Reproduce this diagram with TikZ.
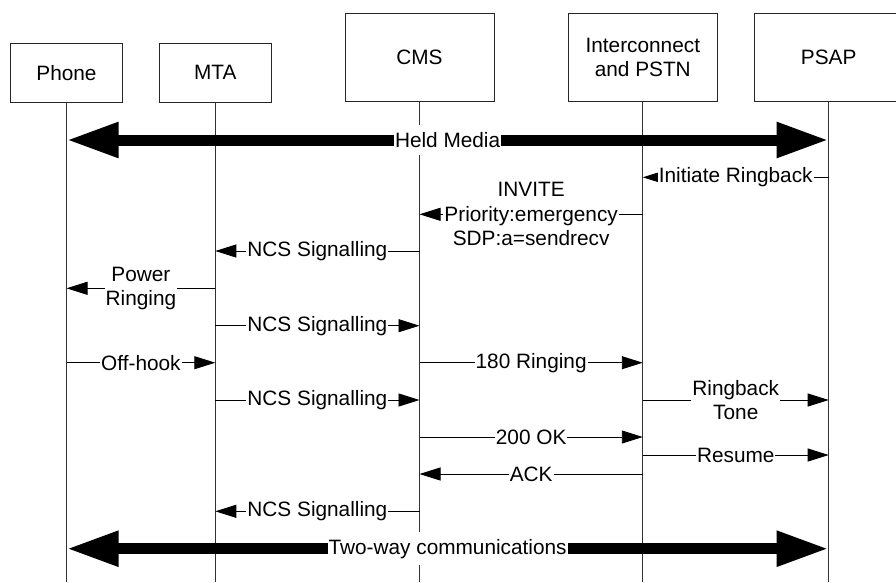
\documentclass[tikz,border=0pt]{standalone}
\usepackage{fontspec}
\setmainfont{Liberation Sans}
\usetikzlibrary{arrows.meta}
\begin{document}
\begin{tikzpicture}[x=1pt,y=-1pt,
  every node/.style={font=\fontsize{20.8pt}{24.5pt}\selectfont},
  actor/.style={draw=black!85, line width=0.9pt, fill=white, inner sep=0pt, align=center},
  life/.style={line width=0.9pt, draw=black!80},
  msg/.style={line width=0.9pt, -{Triangle[length=21pt,width=13pt]}},
  lbl/.style={fill=white, inner xsep=1pt, inner ysep=2pt, align=center},
  big/.style={line width=11pt, {Triangle[length=52pt,width=33pt]}-{Triangle[length=52pt,width=33pt]}},
  biglbl/.style={fill=white, inner xsep=1pt, inner ysep=7pt}]
\useasboundingbox (0,0) rectangle (896,582);
\clip (0,0) rectangle (896,582);
\fill[white] (0,0) rectangle (896,582);
% actors
\node[actor, minimum width=111.6pt, minimum height=59pt] (phone) at (66.5,72.8) {Phone};
\node[actor, minimum width=112pt, minimum height=59pt] (mta) at (215.3,72.8) {MTA};
\node[actor, minimum width=149pt, minimum height=88.4pt] (cms) at (419.5,57.5) {CMS};
\node[actor, minimum width=149pt, minimum height=88.4pt] (ic) at (642.8,57.5) {Interconnect\\and PSTN};
\node[actor, minimum width=149pt, minimum height=88.4pt] (psap) at (828.7,57.5) {PSAP};
% lifelines
\coordinate (phoneend) at (phone.south |- 0,582);
\coordinate (mtaend) at (mta.south |- 0,582);
\coordinate (cmsend) at (cms.south |- 0,582);
\coordinate (icend) at (ic.south |- 0,582);
\coordinate (psapend) at (psap.south |- 0,582);
\draw[life] (phone.south) -- (phoneend);
\draw[life] (mta.south) -- (mtaend);
\draw[life] (cms.south) -- (cmsend);
\draw[life] (ic.south) -- (icend);
\draw[life] (psap.south) -- (psapend);
% messages
\draw[big] (phone.south |- 0,140) -- node[biglbl]{Held Media} (psap.south |- 0,140);
\draw[msg] (psap.south |- 0,177.3) -- node[lbl]{Initiate Ringback} (ic.south |- 0,177.3);
\draw[msg] (ic.south |- 0,214.3) -- node[lbl]{INVITE\\Priority:emergency\\SDP:a=sendrecv} (cms.south |- 0,214.3);
\draw[msg] (cms.south |- 0,251) -- node[lbl]{NCS Signalling} (mta.south |- 0,251);
\draw[msg] (mta.south |- 0,288.3) -- node[lbl]{Power\\Ringing} (phone.south |- 0,288.3);
\draw[msg] (mta.south |- 0,325.7) -- node[lbl]{NCS Signalling} (cms.south |- 0,325.7);
\draw[msg] (phone.south |- 0,362.7) -- node[lbl]{Off-hook} (mta.south |- 0,362.7);
\draw[msg] (cms.south |- 0,362.7) -- node[lbl]{180 Ringing} (ic.south |- 0,362.7);
\draw[msg] (mta.south |- 0,400) -- node[lbl]{NCS Signalling} (cms.south |- 0,400);
\draw[msg] (ic.south |- 0,400) -- node[lbl]{Ringback\\Tone} (psap.south |- 0,400);
\draw[msg] (cms.south |- 0,437) -- node[lbl]{200 OK} (ic.south |- 0,437);
\draw[msg] (ic.south |- 0,455) -- node[lbl]{Resume} (psap.south |- 0,455);
\draw[msg] (ic.south |- 0,474) -- node[lbl]{ACK} (cms.south |- 0,474);
\draw[msg] (cms.south |- 0,511.3) -- node[lbl]{NCS Signalling} (mta.south |- 0,511.3);
\draw[big] (phone.south |- 0,548.7) -- node[biglbl]{Two-way communications} (psap.south |- 0,548.7);
\end{tikzpicture}
\end{document}
